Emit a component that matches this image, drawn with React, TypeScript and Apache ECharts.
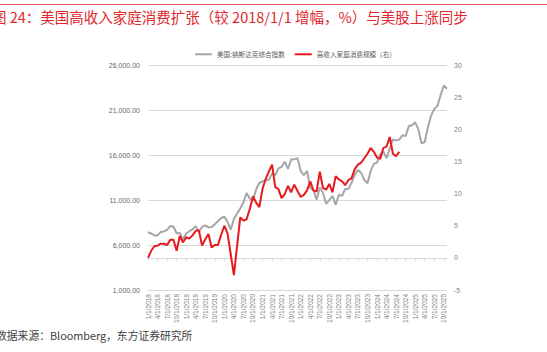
import React, { useEffect, useRef } from "react";
import * as echarts from "echarts";

const titleText = "图 24：美国高收入家庭消费扩张（较 2018/1/1 增幅，%）与美股上涨同步";
const sourceText = "数据来源：Bloomberg，东方证券研究所";
const seriesNames = ["美国:纳斯达克综合指数", "高收入家庭消费规模（右）"];

const years = [2018, 2019, 2020, 2021, 2022, 2023, 2024, 2025];
const lastMonth2025 = 11;
const categories: string[] = [];
years.forEach((y) => {
  for (let m = 1; m <= 12; m++) {
    if (y === 2025 && m > lastMonth2025) break;
    categories.push(`${m}/1/${y}`);
  }
});

const nasdaq = [
  7411, 7273, 7063, 7066, 7442, 7510, 7672, 8110, 8046, 7306, 7331, 6635,
  7282, 7533, 7729, 8095, 7453, 8006, 8175, 7963, 7999, 8292, 8665, 8973,
  9151, 8567, 7700, 8890, 9490, 10059, 10745, 11775, 11168, 10912, 12199, 12888,
  13071, 13192, 13247, 13962, 13749, 14504, 14673, 15259, 14449, 15498, 15538, 15645,
  14240, 13751, 14221, 12335, 12081, 11029, 12391, 11816, 10576, 10988, 11468, 10466,
  11585, 11456, 12222, 12227, 12935, 13788, 14346, 14035, 13219, 12851, 14226, 15011,
  15164, 16092, 16379, 15658, 16735, 17733, 17599, 17714, 18189, 18095, 19218, 19311,
  19627, 18847, 17299, 17446, 19114, 20370, 21122, 21456, 22660, 23725, 23366,
];

const highIncomeSpending = [
  0, 1.1, 1.8, 1.9, 2.2, 2.2, 2.0, 2.8, 2.8, 1.1, 3.4, 2.4,
  3.2, 3.0, 3.5, 4.2, 4.3, 1.9, 2.9, 3.7, 1.6, 2.0, 2.0, 3.6,
  5.0, 3.8, 0.6, -2.7, 1.8, 6.3, 5.8, 6.0, 7.6, 9.6, 8.6, 7.9,
  10.7, 12.3, 13.4, 14.5, 11.0, 10.7, 9.3, 9.9, 11.2, 10.2, 11.4, 10.4,
  9.5, 9.8, 10.5, 11.9, 10.5, 10.3, 13.4, 10.9, 10.6, 11.5, 10.2, 12.7,
  12.2, 11.9, 11.3, 12.1, 12.4, 13.8, 14.5, 14.8, 15.5, 16.2, 17.1, 16.5,
  15.6, 15.4, 17.1, 17.3, 18.8, 16.2, 15.8, 16.5,
];

const leftAxis = { min: 1000, max: 26000, interval: 5000 };
const rightAxis = { min: -5, max: 30, interval: 5 };

function fmtThousands(v: number): string {
  const s = Math.round(v).toString().replace(/\B(?=(\d{3})+(?!\d))/g, ",");
  return s + ".00";
}

const FONT = "'Liberation Sans', 'Noto Sans CJK SC', sans-serif";
const CJK = "'Noto Sans CJK SC', 'Liberation Sans', sans-serif";

export default function App() {
  const ref = useRef<HTMLDivElement>(null);
  useEffect(() => {
    if (!ref.current) return;
    const chart = echarts.init(ref.current, undefined, { renderer: "svg" });
    chart.setOption({
      animation: false,
      backgroundColor: "#ffffff",
      graphic: [
        {
          type: "line",
          shape: { x1: 0, y1: 4.5, x2: 547, y2: 4.5 },
          style: { stroke: "#e25a5a", lineWidth: 1 },
        },
        {
          type: "text",
          x: -8,
          y: 16,
          style: {
            text: titleText,
            fontSize: 14.5,
            fontFamily: CJK,
            fill: "#e0282c",
            verticalAlign: "middle",
          },
        },
        {
          type: "text",
          x: -4,
          y: 335,
          style: {
            text: sourceText,
            fontSize: 10.8,
            fontFamily: CJK,
            fill: "#404040",
            verticalAlign: "middle",
          },
        },
      ],
      legend: {
        left: 190,
        top: 46,
        icon: "rect",
        itemWidth: 17,
        itemHeight: 2,
        itemGap: 10,
        textStyle: { fontSize: 6.6, color: "#595959", fontFamily: CJK },
        data: seriesNames,
      },
      grid: { left: 148, right: 100, top: 65, bottom: 62, containLabel: false },
      xAxis: {
        type: "category",
        data: categories,
        boundaryGap: false,
        axisLine: { lineStyle: { color: "#d9d9d9", width: 1 } },
        axisTick: { show: true, interval: 2, length: 3, lineStyle: { color: "#d9d9d9" } },
        axisLabel: {
          interval: 2,
          rotate: 90,
          fontSize: 6.5,
          color: "#7f7f7f",
          margin: 4,
          fontFamily: FONT,
        },
        splitLine: { show: false },
      },
      yAxis: [
        {
          type: "value",
          min: leftAxis.min,
          max: leftAxis.max,
          interval: leftAxis.interval,
          axisLine: { show: false },
          axisTick: { show: false },
          axisLabel: {
            fontSize: 7,
            color: "#666666",
            margin: 8,
            fontFamily: FONT,
            formatter: (v: number) => fmtThousands(v),
          },
          splitLine: { show: true, lineStyle: { color: "#d9d9d9", width: 1 } },
        },
        {
          type: "value",
          min: rightAxis.min,
          max: rightAxis.max,
          interval: rightAxis.interval,
          axisLine: { show: false },
          axisTick: { show: false },
          axisLabel: { fontSize: 7, color: "#7f7f7f", margin: 7, fontFamily: FONT },
          splitLine: { show: false },
        },
      ],
      series: [
        {
          name: seriesNames[0],
          type: "line",
          yAxisIndex: 0,
          data: nasdaq,
          symbol: "none",
          lineStyle: { color: "#a6a6a6", width: 2 },
          itemStyle: { color: "#a6a6a6" },
          z: 2,
        },
        {
          name: seriesNames[1],
          type: "line",
          yAxisIndex: 1,
          data: highIncomeSpending,
          symbol: "none",
          lineStyle: { color: "#e8191d", width: 2 },
          itemStyle: { color: "#e8191d" },
          z: 3,
        },
      ],
    });
    return () => chart.dispose();
  }, []);
  return (
    <div
      ref={ref}
      style={{ position: "fixed", left: 0, top: 0, width: 547, height: 352 }}
    />
  );
}
